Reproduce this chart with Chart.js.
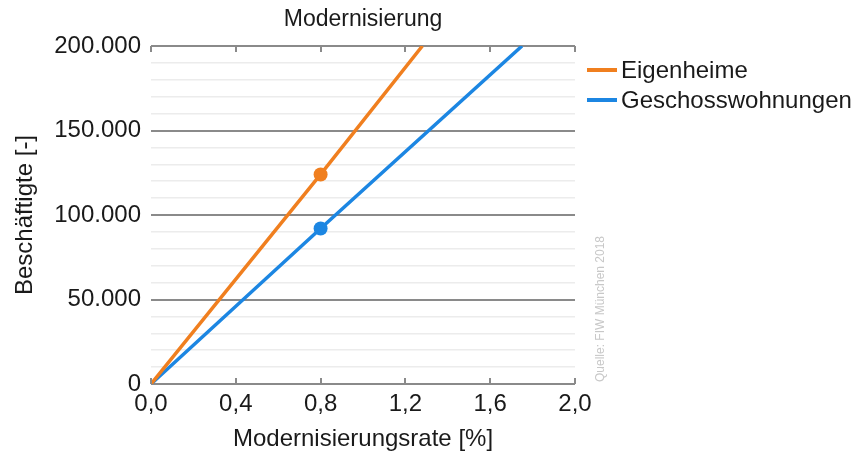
<!DOCTYPE html>
<html>
<head>
<meta charset="utf-8">
<script src="https://cdn.jsdelivr.net/npm/chart.js@4/dist/chart.umd.min.js"></script>
<style>
    html, body { margin: 0; padding: 0; background: #ffffff; }
    #box { width: 856px; height: 459px; }
</style>
</head>
<body>
<div id="box"><canvas id="grafico"></canvas></div>
<script>
// dados
const rotulos = ['Eigenheime', 'Geschosswohnungen'];
const xEigenheime = [0, 0.8, 1.28];
const yEigenheime = [0, 124000, 200000];
const xGeschoss = [0, 0.8, 1.75];
const yGeschoss = [0, 92000, 200000];
const raioPontos = [0, 7, 0];
const cores = ['#f07f1f', '#1c86e2'];
const fonte = 'Liberation Sans, Arial, sans-serif';

function montarPontos(xs, ys) {
    let pts = [];
    for (let i = 0; i < xs.length; i++) {
        pts.push({ x: xs[i], y: ys[i] });
    }
    return pts;
}

function formatarMilhar(v) {
    return String(v).replace(/\B(?=(\d{3})+(?!\d))/g, '.');
}

// titulo, moldura com marcas para dentro, legenda e fonte
const extras = {
    id: 'extras',
    afterDraw(chart) {
        const ctx = chart.ctx;
        const area = chart.chartArea;
        const sx = chart.scales.x;
        ctx.save();

        ctx.font = '23px ' + fonte;
        ctx.fillStyle = '#1a1a1a';
        ctx.textAlign = 'center';
        ctx.textBaseline = 'middle';
        ctx.fillText('Modernisierung', (area.left + area.right) / 2, 20);

        ctx.strokeStyle = '#8a8a8a';
        ctx.lineWidth = 2;
        const valoresX = [0, 0.4, 0.8, 1.2, 1.6, 2.0];
        for (let i = 0; i < valoresX.length; i++) {
            let px = Math.round(sx.getPixelForValue(valoresX[i]));
            ctx.beginPath();
            ctx.moveTo(px, area.top);
            ctx.lineTo(px, area.top + 6);
            ctx.moveTo(px, area.bottom);
            ctx.lineTo(px, area.bottom - 6);
            ctx.stroke();
        }

        // legenda
        ctx.font = '24px ' + fonte;
        ctx.textAlign = 'left';
        const ys = [70, 100];
        for (let i = 0; i < rotulos.length; i++) {
            ctx.strokeStyle = cores[i];
            ctx.lineWidth = 4;
            ctx.beginPath();
            ctx.moveTo(587, ys[i]);
            ctx.lineTo(617, ys[i]);
            ctx.stroke();
            ctx.fillStyle = '#1a1a1a';
            ctx.fillText(rotulos[i], 621, ys[i] + 1);
        }

        // fonte dos dados
        ctx.translate(601, 309);
        ctx.rotate(-Math.PI / 2);
        ctx.font = '12px ' + fonte;
        ctx.fillStyle = '#c8c8c8';
        ctx.textAlign = 'center';
        ctx.fillText('Quelle: FIW München 2018', 0, 0);
        ctx.restore();
    }
};

Chart.defaults.font.family = fonte;
Chart.defaults.color = '#1a1a1a';

const config = {
    type: 'line',
    data: {
        datasets: [{
            label: rotulos[0],
            data: montarPontos(xEigenheime, yEigenheime),
            borderColor: cores[0],
            backgroundColor: cores[0],
            borderWidth: 3.5,
            pointRadius: raioPontos,
            pointHoverRadius: raioPontos,
            pointBorderWidth: 0
        }, {
            label: rotulos[1],
            data: montarPontos(xGeschoss, yGeschoss),
            borderColor: cores[1],
            backgroundColor: cores[1],
            borderWidth: 3.5,
            pointRadius: raioPontos,
            pointHoverRadius: raioPontos,
            pointBorderWidth: 0
        }]
    },
    options: {
        responsive: true,
        maintainAspectRatio: false,
        animation: false,
        layout: {
            padding: { left: 0, right: 281, top: 46, bottom: 0 }
        },
        plugins: {
            legend: { display: false },
            tooltip: { enabled: false },
            title: { display: false }
        },
        scales: {
            x: {
                type: 'linear',
                min: 0,
                max: 2,
                afterFit: function (scale) { scale.height = 75; },
                ticks: {
                    stepSize: 0.4,
                    padding: 6,
                    font: { size: 24 },
                    color: '#1a1a1a',
                    callback: function (v) { return v.toFixed(1).replace('.', ','); }
                },
                grid: { display: false, drawTicks: false },
                border: { display: false },
                title: {
                    display: true,
                    text: 'Modernisierungsrate [%]',
                    color: '#1a1a1a',
                    font: { size: 24 },
                    padding: { top: 0, bottom: 5 }
                }
            },
            y: {
                min: 0,
                max: 200000,
                afterFit: function (scale) { scale.width = 151; },
                ticks: {
                    stepSize: 10000,
                    autoSkip: false,
                    padding: 10,
                    font: { size: 24 },
                    color: '#1a1a1a',
                    callback: function (v) { return v % 50000 == 0 ? formatarMilhar(v) : ''; }
                },
                grid: {
                    drawTicks: false,
                    color: function (c) { return c.tick.value % 50000 == 0 ? '#8a8a8a' : '#ececec'; },
                    lineWidth: function (c) { return c.tick.value % 50000 == 0 ? 2 : 1.5; }
                },
                border: { display: false },
                title: {
                    display: true,
                    text: 'Beschäftigte [-]',
                    color: '#1a1a1a',
                    font: { size: 24 },
                    padding: { top: 11, bottom: 0 }
                }
            }
        }
    },
    plugins: [extras]
};

let grafico = new Chart(document.getElementById('grafico'), config);
</script>
</body>
</html>
